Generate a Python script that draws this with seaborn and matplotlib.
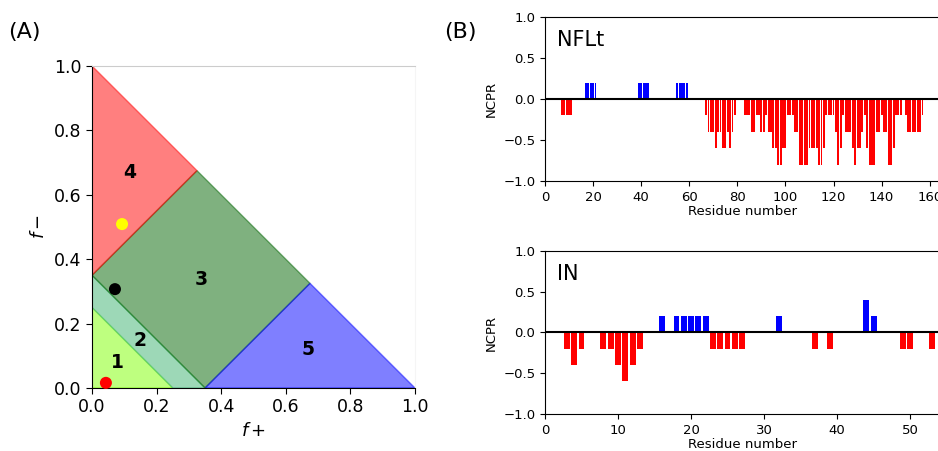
import numpy as np
import pandas as pd
import matplotlib
matplotlib.use("Agg")
import matplotlib.pyplot as plt
import seaborn as sns

# ---------------- data ----------------
# Panel A: Das-Pappu diagram regions (vertices in (f+, f-))
region_names = ["1", "2", "3", "4", "5"]
region_colors = ["chartreuse", "mediumseagreen", "darkgreen", "red", "blue"]
region_1 = [(0, 0), (0.25, 0), (0, 0.25)]
region_2 = [(0.25, 0), (0.35, 0), (0, 0.35), (0, 0.25)]
region_3 = [(0.35, 0), (0.675, 0.325), (0.325, 0.675), (0, 0.35)]
region_4 = [(0, 0.35), (0, 1), (0.325, 0.675)]
region_5 = [(0.35, 0), (1, 0), (0.675, 0.325)]
label_fplus = [0.077, 0.149, 0.337, 0.118, 0.669]
label_fminus = [0.078, 0.149, 0.338, 0.668, 0.118]

point_fplus = [0.043, 0.071, 0.093]
point_fminus = [0.016, 0.307, 0.509]
point_colors = ["red", "black", "yellow"]

# Panel B: NCPR per residue
ncpr_nflt = [
    0, 0, 0, 0, 0, 0, -0.2, -0.2, -0.2, -0.2,            # 1-10
    -0.2, 0, 0, 0, 0, 0, 0.2, 0.2, 0.2, 0.2,             # 11-20
    0.2, 0, 0, 0, 0, 0, 0, 0, 0, 0,                      # 21-30
    0, 0, 0, 0, 0, 0, 0, 0, 0.2, 0.2,                    # 31-40
    0.2, 0.2, 0.2, 0, 0, 0, 0, 0, 0, 0,                  # 41-50
    0, 0, 0, 0, 0.2, 0.2, 0.2, 0.2, 0.2, 0,              # 51-60
    0, 0, 0, 0, 0, 0, -0.2, -0.4, -0.4, -0.4,            # 61-70
    -0.6, -0.4, -0.4, -0.6, -0.6, -0.4, -0.6, -0.4, -0.2, 0,   # 71-80
    0, 0, -0.2, -0.2, -0.2, -0.4, -0.4, -0.2, -0.2, -0.4,      # 81-90
    -0.4, -0.2, -0.4, -0.4, -0.6, -0.6, -0.8, -0.8, -0.6, -0.6,  # 91-100
    -0.2, -0.2, -0.2, -0.4, -0.4, -0.8, -0.8, -0.8, -0.8, -0.6,  # 101-110
    -0.6, -0.6, -0.6, -0.8, -0.8, -0.6, -0.2, -0.2, -0.2, -0.2,  # 111-120
    -0.4, -0.8, -0.6, -0.2, -0.4, -0.4, -0.4, -0.6, -0.8, -0.6,  # 121-130
    -0.6, -0.4, -0.2, -0.6, -0.8, -0.8, -0.8, -0.4, -0.4, -0.2,  # 131-140
    -0.4, -0.4, -0.8, -0.8, -0.6, -0.2, -0.2, -0.2, 0, -0.2,     # 141-150
    -0.4, -0.4, -0.4, -0.4, -0.4, -0.4, -0.2, 0, 0, 0,           # 151-160
    0, 0, 0,                                                      # 161-163
]
ncpr_in = [
    0, 0, -0.2, -0.4, -0.2, 0, 0, -0.2, -0.2, -0.4,      # 1-10
    -0.6, -0.4, -0.2, 0, 0, 0.2, 0, 0.2, 0.2, 0.2,       # 11-20
    0.2, 0.2, -0.2, -0.2, -0.2, -0.2, -0.2, 0, 0, 0,     # 21-30
    0, 0.2, 0, 0, 0, 0, -0.2, 0, -0.2, 0,                # 31-40
    0, 0, 0, 0.4, 0.2, 0, 0, 0, -0.2, -0.2,              # 41-50
    0, 0, -0.2,                                           # 51-53
]
panel_b_names = ["NFLt", "IN"]
panel_b_xlim = [164, 54]
panel_b_xticks = [list(range(0, 161, 20)), list(range(0, 51, 10))]

# ---------------- figure ----------------
sns.set_style("ticks", rc={"axes.edgecolor": "black", "text.color": "black",
                           "axes.labelcolor": "black", "xtick.color": "black",
                           "ytick.color": "black"})
plt.rcParams["font.family"] = ["DejaVu Sans"]

fig = plt.figure(figsize=(9.38, 4.51), dpi=100)

# ---- Panel A ----
axA = fig.add_axes([0.0981, 0.1397, 0.3443, 0.714])
regions = [region_1, region_2, region_3, region_4, region_5]
for verts, col in zip(regions, region_colors):
    xs = [v[0] for v in verts]
    ys = [v[1] for v in verts]
    axA.fill(xs, ys, facecolor=col, alpha=0.5, edgecolor=col, linewidth=1.0, zorder=1)
for name, lx, ly in zip(region_names, label_fplus, label_fminus):
    axA.text(lx, ly, name, fontsize=13.5, fontweight="bold", ha="center", va="center", zorder=3)

pts = pd.DataFrame({"fplus": point_fplus, "fminus": point_fminus, "c": point_colors})
sns.scatterplot(data=pts, x="fplus", y="fminus", hue="c", palette={c: c for c in point_colors},
                s=75, linewidth=0, legend=False, ax=axA, zorder=4, clip_on=False)

axA.set_xlim(0, 1)
axA.set_ylim(0, 1)
axA.set_xticks(np.arange(0, 1.01, 0.2))
axA.set_yticks(np.arange(0, 1.01, 0.2))
axA.tick_params(labelsize=12.5, length=4)
axA.set_xlabel(r"$f+$", fontsize=13)
axA.set_ylabel(r"$f-$", fontsize=13)
axA.spines["top"].set_color("#cccccc")
axA.spines["right"].set_color("#f5f5f5")
for s in ["left", "bottom"]:
    axA.spines[s].set_color("black")
fig.text(0.009, 0.929, "(A)", fontsize=16, va="center")
fig.text(0.474, 0.929, "(B)", fontsize=16, va="center")

# ---- Panel B ----
b_positions = [[0.581, 0.5987, 0.4204, 0.3636], [0.581, 0.082, 0.4204, 0.3615]]
for name, vals, xlim, xt, pos in zip(panel_b_names, [ncpr_nflt, ncpr_in],
                                     panel_b_xlim, panel_b_xticks, b_positions):
    ax = fig.add_axes(pos)
    df = pd.DataFrame({"res": np.arange(1, len(vals) + 1), "ncpr": vals})
    df = df[df["ncpr"] != 0].copy()
    df["sign"] = np.where(df["ncpr"] > 0, "pos", "neg")
    sns.barplot(data=df, x="res", y="ncpr", hue="sign", palette={"pos": "blue", "neg": "red"},
                native_scale=True, dodge=False, saturation=1, width=0.8, legend=False,
                linewidth=0, ax=ax)
    ax.axhline(0, color="black", linewidth=1.5, zorder=5)
    ax.set_xlim(0, xlim)
    ax.set_ylim(-1, 1)
    ax.set_xticks(xt)
    ax.set_yticks([-1.0, -0.5, 0.0, 0.5, 1.0])
    ax.set_yticklabels(["−1.0", "−0.5", "0.0", "0.5", "1.0"])
    ax.tick_params(labelsize=9.5, length=3.5)
    ax.set_xlabel("Residue number", fontsize=9.5, labelpad=1)
    ax.set_ylabel("NCPR", fontsize=9.5)
    ax.text(0.03, 0.86, name, transform=ax.transAxes, fontsize=15, va="center")

fig.savefig("out.png", dpi=100)
